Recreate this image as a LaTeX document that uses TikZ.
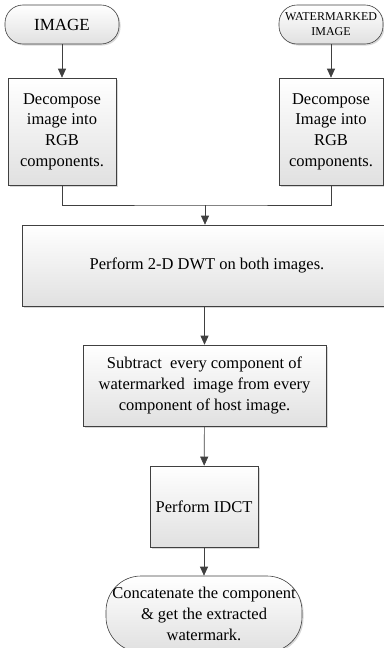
\documentclass[tikz,border=0pt]{standalone}
\usepackage{fontspec}
\setmainfont{Liberation Serif}
\usepackage{tikz}
\usetikzlibrary{arrows.meta,shadows}
\definecolor{edge}{HTML}{404040}
\tikzset{
  box/.style={draw=edge, semithick, top color=white, bottom color=black!12,
              drop shadow={shadow xshift=1.5pt, shadow yshift=-1.5pt, fill=black!30},
              align=center, inner sep=2pt, font=\fontsize{16.5}{20.7}\selectfont},
  term/.style={box, rounded corners=18pt},
  fl/.style={draw=edge, semithick},                                  % plain flow line
  fa/.style={draw=edge, semithick, -{Triangle[length=9pt,width=8pt]}}, % flow arrow
}

\begin{document}
\begin{tikzpicture}[x=1pt,y=-1pt]
  \useasboundingbox (0,0) rectangle (383,648);
  \node[term, minimum width=114pt, minimum height=39pt, font=\fontsize{17}{20}\selectfont] (img) at (62,24.5) {IMAGE};
  \node[term, minimum width=104pt, minimum height=39pt, font=\fontsize{12}{15}\selectfont] (wimg) at (331,24.5) {WATERMARKED\\IMAGE};
  \node[box, minimum width=108pt, minimum height=107pt] (dl) at (62,131.5) {Decompose\\image into\\RGB\\components.};
  \node[box, minimum width=104pt, minimum height=107pt] (dr) at (331,131.5) {Decompose\\Image into\\RGB\\components.};
  \coordinate (jn) at (205,205);
  \node[box, minimum width=370pt, minimum height=81pt] (dwt) at (207,265.5) {Perform 2-D DWT on both images.};
  \node[box, minimum width=243pt, minimum height=81pt] (sub) at (204.5,385.5) {Subtract\ \ every component of\\watermarked\ \ image from every\\component of host image.};
  \node[box, minimum width=108pt, minimum height=81pt] (idct) at (204,506.5) {Perform IDCT};
  \node[term, rounded corners=35pt, minimum width=196pt, minimum height=76pt, inner sep=0pt] (cat) at (204,614) {Concatenate the component\\\& get the extracted\\watermark.};
  \draw[fa] (img) -- (dl);
  \draw[fa] (wimg.south -| dr.north) -- (dr);
  \draw[fl] (dl.south) |- (jn) -| (dr.south);
  \draw[fa] (jn) -- (jn |- dwt.north);
  \foreach \u/\v in {sub/idct,idct/cat} \draw[fa] (\u) -- (\v);
  \draw[fa] (dwt.south -| sub.north) -- (sub);
\end{tikzpicture}
\end{document}
